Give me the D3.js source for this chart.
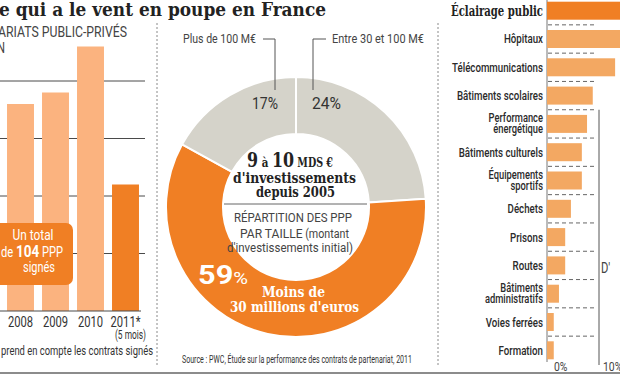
<!DOCTYPE html>
<html><head><meta charset="utf-8">
<script src="https://cdn.jsdelivr.net/npm/d3@7"></script>
<style>
html,body{margin:0;padding:0;background:#fff;}
svg{display:block;}
</style></head>
<body>
<svg id="c" width="620" height="380"></svg>
<script>
// ---------- DATA ----------
const years = ["2008", "2009", "2010", "2011*"];
const pppSigned = [18, 19, 23, 11];
const countTicks = [0, 5, 10, 15, 20];

const sizeClasses = ["Entre 30 et 100 M€", "Moins de 30 millions d'euros", "Plus de 100 M€"];
const sizeShares = [24, 59, 17];

const sectors = ["Éclairage public", "Hôpitaux", "Télécommunications", "Bâtiments scolaires",
  "Performance\nénergétique", "Bâtiments culturels", "Équipements\nsportifs", "Déchets",
  "Prisons", "Routes", "Bâtiments\nadministratifs", "Voies ferrées", "Formation"];
const sectorShares = [17, 15.5, 13.1, 8.8, 7.7, 6.7, 6.7, 4.6, 3.5, 3.5, 2.3, 1.3, 1.3];
const pctTicks = [0, 10];

// ---------- STYLE ----------
const SANS = "Roboto, 'Open Sans', sans-serif";
const SERIF = "'DejaVu Serif',serif";
const ORANGE = "#f07f24", PEACH = "#fbb37f", LORANGE = "#f3a862", GREY = "#d5d3ca", INK = "#333";
const CONDENSE = 0.8;

const svg = d3.select("#c");

function fit(sel, w) { return sel.attr("textLength", w).attr("lengthAdjust", "spacingAndGlyphs"); }
function text(x, y, s, size, opt = {}) {
  const t = svg.append("text").attr("x", x).attr("y", y).text(s)
    .attr("font-family", opt.family || SANS).attr("font-size", size)
    .attr("font-weight", opt.weight || "normal").attr("fill", opt.fill || INK)
    .attr("text-anchor", opt.anchor || "start");
  if (opt.w) fit(t, opt.w);
  return t;
}

// ---------- TITLE ----------
text(-1, 16, "e qui a le vent en poupe en France", 19, {family: SERIF, weight: "bold", fill: "#222", w: 327});
text(-2, 37, "ARIATS PUBLIC-PRIVÉS", 15, {fill: "#444", w: 129});
text(-3, 53, "N", 15, {fill: "#444", w: 8});

// ---------- LEFT: BAR CHART ----------
const xb = d3.scaleBand().domain(years).range([3, 143]).paddingInner(0.23).paddingOuter(0.115);
const yb = d3.scaleLinear().domain([0, 20]).range([311, 81]);

const gLeft = svg.append("g");
gLeft.selectAll("line.grid").data(countTicks.filter(d => d > 0)).join("line")
  .attr("x1", 0).attr("x2", 145).attr("y1", d => yb(d)).attr("y2", d => yb(d))
  .attr("stroke", "#4a4a4a").attr("stroke-width", 1);
gLeft.selectAll("rect").data(years).join("rect")
  .attr("x", d => xb(d)).attr("width", xb.bandwidth())
  .attr("y", (d, i) => yb(pppSigned[i])).attr("height", (d, i) => yb(0) - yb(pppSigned[i]))
  .attr("fill", (d, i) => i === years.length - 1 ? ORANGE : PEACH);
gLeft.append("line").attr("x1", 0).attr("x2", 141).attr("y1", yb(0)).attr("y2", yb(0))
  .attr("stroke", "#4a4a4a").attr("stroke-width", 1.2);

const xAxisL = d3.axisBottom(xb).tickSize(0).tickPadding(0);
const gx = svg.append("g").attr("transform", `translate(0,${yb(0) + 16})`).call(xAxisL);
gx.select(".domain").remove();
gx.selectAll("text").attr("font-family", SANS).attr("font-size", 14).attr("fill", INK).attr("dy", 0);
text(xb("2011*") + xb.bandwidth() / 2 + 5, 338.5, "(5 mois)", 13, {anchor: "middle", w: 31});
text(1, 355, "prend en compte les contrats signés", 12, {w: 152});

// total box
svg.append("rect").attr("x", -12).attr("y", 223).attr("width", 85).attr("height", 62).attr("rx", 7)
  .attr("fill", ORANGE);
text(33, 240, "Un total", 14, {fill: "#fff", anchor: "middle", w: 41});
const t104 = text(32, 257, "", 14, {fill: "#fff", anchor: "middle", w: 62});
t104.append("tspan").text("de ");
t104.append("tspan").text("104").attr("font-weight", "bold").attr("font-size", 17);
t104.append("tspan").text(" PPP");
text(39, 272, "signés", 14, {fill: "#fff", anchor: "middle", w: 32});

// ---------- SEPARATORS ----------
[157, 438].forEach(x => svg.append("line").attr("x1", x).attr("x2", x).attr("y1", 23).attr("y2", 367)
  .attr("stroke", "#8a8a8a").attr("stroke-dasharray", "2,2").attr("stroke-width", 1));
svg.append("line").attr("x1", 0).attr("x2", 620).attr("y1", 373).attr("y2", 373)
  .attr("stroke", "#666").attr("stroke-width", 1.3);

// ---------- MIDDLE: DONUT ----------
const cx = 296, cy = 207;
const pie = d3.pie().sort(null).value(d => d)(sizeShares);
const arc = d3.arc().innerRadius(73).outerRadius(130);
const gD = svg.append("g").attr("transform", `translate(${cx},${cy})`);
gD.selectAll("path").data(pie).join("path").attr("d", arc)
  .attr("fill", (d, i) => i === 1 ? ORANGE : GREY).attr("stroke", "#fff").attr("stroke-width", 2);

svg.append("path").attr("d", "M263,39H275V90").attr("fill", "none").attr("stroke", "#555").attr("stroke-width", 1);
svg.append("path").attr("d", "M326,39H313V90").attr("fill", "none").attr("stroke", "#555").attr("stroke-width", 1);
text(256, 43, sizeClasses[2], 13, {anchor: "end", fill: "#444", w: 73});
text(332, 43, sizeClasses[0], 13, {fill: "#444", w: 92});
text(265, 109, sizeShares[2] + "%", 17, {anchor: "middle", w: 26});
text(326.5, 109, sizeShares[0] + "%", 17, {anchor: "middle", w: 29});

const t9 = text(290, 167, "", 20, {family: SERIF, weight: "bold", fill: "#222", anchor: "middle", w: 86});
t9.append("tspan").text("9");
t9.append("tspan").text(" à ").attr("font-size", 13);
t9.append("tspan").text("10");
t9.append("tspan").text(" MDS €").attr("font-size", 12);
text(294.5, 183, "d'investissements", 14.5, {family: SERIF, weight: "bold", fill: "#222", anchor: "middle", w: 123});
text(295.5, 197, "depuis 2005", 14.5, {family: SERIF, weight: "bold", fill: "#222", anchor: "middle", w: 79});
svg.append("line").attr("x1", 224).attr("x2", 367).attr("y1", 204).attr("y2", 204).attr("stroke", "#666");
text(293, 222, "RÉPARTITION DES PPP", 13.5, {anchor: "middle", fill: "#444", w: 118});
const tpar = text(294.5, 238, "", 13.5, {anchor: "middle", fill: "#444", w: 109});
tpar.append("tspan").text("PAR TAILLE");
tpar.append("tspan").text(" (montant").attr("font-size", 12);
text(290, 252, "d'investissements initial)", 12, {anchor: "middle", fill: "#444", w: 126});

const t59 = text(198, 284, "", 26, {weight: "bold", fill: "#fff", w: 50});
t59.append("tspan").text(sizeShares[1]);
t59.append("tspan").text("%").attr("font-size", 17).attr("font-weight", "normal");
text(293.5, 297, "Moins de", 14, {family: SERIF, weight: "bold", fill: "#fff", anchor: "middle", w: 63});
text(294.5, 312, "30 millions d'euros", 14, {family: SERIF, weight: "bold", fill: "#fff", anchor: "middle", w: 129});

text(182, 363, "Source : PWC, Étude sur la performance des contrats de partenariat, 2011", 10, {fill: "#333", w: 230});

// ---------- RIGHT: HORIZONTAL BARS ----------
const xr = d3.scaleLinear().domain([0, 10]).range([547, 599]);
const yr = d3.scaleBand().domain(sectors).range([-3.4, 364.4]).paddingInner(0.364).paddingOuter(0.18);
const gR = svg.append("g");
const step = yr.step(), bw = yr.bandwidth();

gR.append("line").attr("x1", xr(0)).attr("x2", xr(0)).attr("y1", 0).attr("y2", 362)
  .attr("stroke", "#777").attr("stroke-width", 1);
gR.append("line").attr("x1", xr(10)).attr("x2", xr(10)).attr("y1", yr(sectors[3]) + bw + (step - bw) / 2).attr("y2", 365)
  .attr("stroke", "#555").attr("stroke-width", 1);
gR.selectAll("line.sep").data(sectors.slice(0, -1)).join("line").attr("class", "sep")
  .attr("x1", xr(0) + 1).attr("x2", xr(9.3))
  .attr("y1", d => yr(d) + bw + (step - bw) / 2).attr("y2", d => yr(d) + bw + (step - bw) / 2)
  .attr("stroke", "#666").attr("stroke-width", 1).attr("stroke-dasharray", "4,3");
gR.selectAll("rect").data(sectors).join("rect")
  .attr("x", xr(0)).attr("y", d => yr(d)).attr("height", bw)
  .attr("width", (d, i) => xr(sectorShares[i]) - xr(0))
  .attr("fill", (d, i) => i === 0 ? ORANGE : LORANGE);

sectors.forEach((s, i) => {
  const c = yr(s) + bw / 2;
  if (i === 0) {
    text(543, c + 5, s, 15, {family: SERIF, weight: "bold", fill: "#222", anchor: "end", w: 92});
    return;
  }
  const lines = s.split("\n");
  if (lines.length === 1) {
    text(543, c + 4.5, s, 13, {anchor: "end", weight: 500, fill: "#2a2a2a"});
  } else {
    text(543, c - 1.5, lines[0], 12.5, {anchor: "end", weight: 500, fill: "#2a2a2a"});
    text(543, c + 9.5, lines[1], 12.5, {anchor: "end", weight: 500, fill: "#2a2a2a"});
  }
});
const k = 91 / svg.selectAll("text").filter(function () { return this.textContent === "Télécommunications"; }).node().getComputedTextLength();
svg.selectAll("text").filter(function () {
  return +this.getAttribute("x") === 543 && !this.hasAttribute("textLength");
}).each(function () { fit(d3.select(this), this.getComputedTextLength() * k); });

pctTicks.forEach(p => text(xr(p) + (p === 0 ? 7 : 4), 371, p + "%", 13, {fill: "#444"}));
text(601, 273, "D'", 14, {fill: "#444"});

svg.selectAll("text").filter(function () {
  return !this.hasAttribute("textLength") && (this.getAttribute("font-family") || "").startsWith("Roboto");
}).each(function () { fit(d3.select(this), this.getComputedTextLength() * CONDENSE); });
</script>
</body></html>
